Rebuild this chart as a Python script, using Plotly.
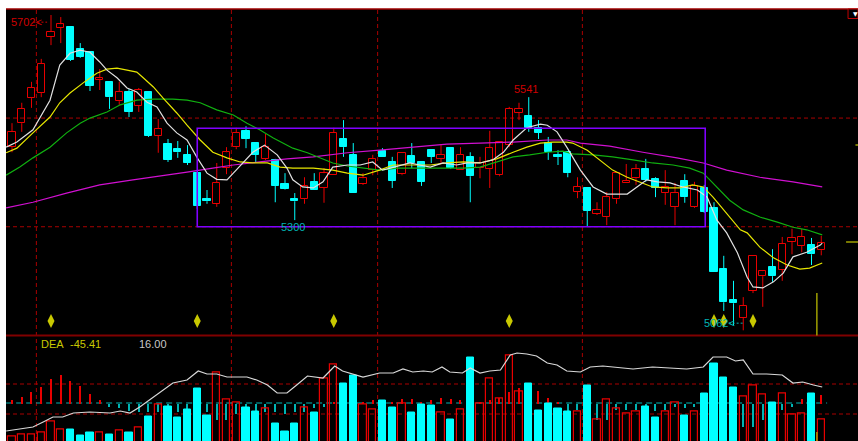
import plotly.graph_objects as go

# ---------------- data ----------------
open_ = [5443, 5490, 5539, 5549, 5659, 5677, 5679, 5635, 5629, 5575,
         5571, 5533, 5551, 5524, 5551, 5465, 5449, 5439, 5428, 5392,
         5341, 5332, 5402, 5443, 5475, 5451, 5420, 5418, 5371, 5341,
         5341, 5375, 5363, 5388, 5459, 5428, 5371, 5398, 5435, 5414,
         5390, 5426, 5414, 5437, 5420, 5441, 5398, 5424, 5402, 5400,
         5388, 5447, 5510, 5504, 5481, 5451, 5428, 5433, 5355, 5363,
         5312, 5306, 5341, 5373, 5382, 5400, 5380, 5353, 5326, 5377,
         5326, 5363, 5324, 5204, 5143, 5108, 5161, 5190, 5208, 5202,
         5257, 5249, 5251, 5241]
high_ = [5490, 5530, 5571, 5616, 5702, 5698, 5680, 5647, 5629, 5596,
         5571, 5571, 5557, 5559, 5551, 5498, 5459, 5455, 5447, 5392,
         5359, 5412, 5443, 5481, 5484, 5453, 5469, 5420, 5392, 5353,
         5384, 5392, 5402, 5481, 5496, 5451, 5392, 5428, 5441, 5424,
         5433, 5451, 5414, 5437, 5447, 5443, 5443, 5433, 5424, 5475,
         5455, 5522, 5530, 5541, 5496, 5463, 5437, 5433, 5384, 5363,
         5335, 5355, 5392, 5410, 5410, 5420, 5384, 5398, 5373, 5390,
         5375, 5369, 5335, 5230, 5181, 5149, 5231, 5202, 5243, 5267,
         5283, 5283, 5265, 5269]
low_ = [5433, 5473, 5520, 5541, 5643, 5647, 5612, 5618, 5553, 5555,
        5518, 5526, 5502, 5512, 5463, 5432, 5414, 5422, 5408, 5322,
        5332, 5326, 5390, 5439, 5441, 5414, 5418, 5335, 5360, 5300,
        5332, 5359, 5334, 5388, 5424, 5353, 5369, 5388, 5424, 5363,
        5388, 5402, 5367, 5412, 5412, 5400, 5398, 5335, 5382, 5363,
        5386, 5443, 5496, 5473, 5459, 5418, 5408, 5384, 5343, 5288,
        5310, 5290, 5332, 5373, 5369, 5375, 5345, 5330, 5290, 5334,
        5324, 5314, 5198, 5122, 5094, 5084, 5157, 5130, 5179, 5181,
        5233, 5237, 5212, 5231]
close_ = [5473, 5518, 5559, 5606, 5669, 5684, 5614, 5620, 5563, 5578,
          5541, 5551, 5512, 5555, 5465, 5479, 5418, 5433, 5412, 5328,
          5337, 5373, 5433, 5471, 5459, 5428, 5443, 5367, 5361, 5337,
          5367, 5359, 5392, 5471, 5443, 5353, 5382, 5420, 5424, 5377,
          5432, 5412, 5375, 5424, 5428, 5402, 5428, 5386, 5412, 5441,
          5453, 5518, 5518, 5481, 5471, 5433, 5424, 5392, 5365, 5318,
          5320, 5345, 5392, 5377, 5400, 5379, 5363, 5365, 5353, 5345,
          5367, 5316, 5198, 5139, 5137, 5132, 5230, 5200, 5190, 5253,
          5265, 5267, 5233, 5255]

volume = [4800, 5200, 5200, 5600, 8000, 6400, 6400, 5000, 5600, 5600,
          5200, 6000, 5600, 6800, 9000, 11400, 11000, 8800, 10400, 14600,
          9200, 17800, 12400, 11800, 10800, 10000, 10600, 7600, 5800, 7600,
          10800, 9800, 16600, 19400, 15600, 17200, 11400, 10400, 12200, 10800,
          11600, 9800, 11400, 11200, 9800, 8400, 10400, 20800, 11600, 16600,
          12600, 21200, 14000, 15600, 10200, 11600, 10600, 10000, 10000, 15200,
          8400, 12400, 10600, 9600, 10000, 11000, 8800, 10000, 11800, 9200,
          10000, 13600, 19600, 16800, 14800, 13000, 15200, 13400, 11800, 13600,
          9400, 9600, 13600, 8400]

macd = [10, 17.5, 30, 42.5, 62.5, 72.5, 57.5, 45, 25, 10,
        -8, -12, -18, -22, -22, -22, -20, -22, -22, -25,
        -22, -42, -42, -25, -22, -22, -22, -22, -25, -22,
        -22, -12, -8, 3, 15, 5, 5, 8, 5, 5,
        12, 12, 5, 8, 15, 12, 10, 8, 5, 10,
        15, 30, 38, 30, 32, 15, 5, -25, -15, -20,
        -42, -42, -15, -15, -15, -8, -18, -15, -8, -12,
        -8, -10, -15, -20, -30, -58, -58, -42, -25, -15,
        -8, 12, 15, 22]

ma5_x = [-0.6, 0.5, 2.15, 3.9, 4.9, 5.95, 6.97, 8.0, 9.0, 9.74, 10.77, 11.8, 12.8, 13.85,
         14.87, 15.9, 16.9, 17.95, 19.0, 20.0, 21.0, 22.05, 22.7, 23.7, 24.7, 25.9, 27.2,
         28.2, 28.8, 29.8, 30.9, 31.9, 32.9, 34.4, 35.7, 37.0, 38.0, 38.8, 40.8, 41.8, 42.9,
         44.2, 45.6, 46.7, 48.0, 49.3, 50.4, 51.4, 52.8, 54.2, 54.9, 55.9, 56.9, 58.3, 59.6,
         61.0, 63.1, 64.1, 65.1, 66.2, 67.5, 68.8, 70.3, 71.3, 72.3, 73.3, 74.4, 75.4, 76.0,
         77.0, 78.1, 79.1, 80.1, 81.5, 82.9, 83.1]
ma5 = [5443, 5453, 5477, 5535, 5604, 5627, 5633, 5629, 5610, 5594, 5579, 5559, 5551, 5531,
       5522, 5490, 5471, 5457, 5422, 5392, 5380, 5379, 5392, 5412, 5433, 5447, 5428,
       5402, 5379, 5365, 5363, 5375, 5404, 5408, 5408, 5414, 5398, 5402, 5412, 5408, 5404,
       5412, 5408, 5412, 5412, 5418, 5433, 5457, 5481, 5488, 5486, 5473, 5443, 5398, 5365,
       5351, 5351, 5365, 5379, 5375, 5373, 5365, 5359, 5345, 5300, 5275, 5236, 5188, 5169,
       5167, 5179, 5196, 5228, 5237, 5251, 5255]

ma10_x = [-0.6, 0.5, 2.15, 3.9, 4.9, 5.95, 7.3, 8.7, 9.74, 10.77, 11.8, 12.8, 13.4, 14.5,
          15.5, 16.9, 17.95, 19.3, 20.6, 22.05, 23.4, 24.7, 26.2, 27.5, 28.8, 30.9, 32.9,
          34.4, 36.0, 37.7, 39.1, 41.1, 42.9, 44.6, 46.3, 48.0, 49.7, 51.4, 52.8, 54.2, 55.5,
          56.9, 57.5, 59.0, 60.3, 61.6, 63.1, 64.4, 65.7, 67.2, 68.5, 69.8, 70.9, 71.9, 73.3,
          74.7, 75.4, 76.7, 78.1, 79.5, 80.8, 81.8, 83.1]
ma10 = [5432, 5441, 5471, 5502, 5530, 5549, 5569, 5588, 5596, 5598, 5594, 5590, 5580, 5561,
        5539, 5510, 5486, 5457, 5433, 5422, 5414, 5412, 5412, 5404, 5402, 5402, 5398,
        5392, 5388, 5398, 5408, 5408, 5408, 5412, 5414, 5412, 5420, 5433, 5443, 5451, 5453,
        5453, 5451, 5437, 5418, 5398, 5384, 5375, 5365, 5363, 5363, 5369, 5365, 5345, 5314,
        5281, 5275, 5247, 5226, 5212, 5204, 5206, 5216]

ma20_x = [-0.6, 0.8, 2.15, 3.9, 5.6, 7.0, 8.0, 9.74, 11.1, 12.8, 14.5, 16.5, 17.95, 19.3,
          21.0, 22.7, 24.1, 25.4, 26.8, 28.2, 28.8, 30.3, 31.6, 32.9, 34.4, 36.0, 37.7, 39.5,
          41.1, 42.9, 44.6, 46.3, 48.0, 49.7, 51.4, 53.1, 54.9, 56.5, 57.5, 59.6, 61.6, 63.7,
          65.7, 67.8, 69.5, 70.9, 72.3, 73.6, 75.0, 76.7, 78.5, 80.1, 81.5, 83.1]
ma20 = [5388, 5404, 5422, 5443, 5471, 5490, 5500, 5512, 5526, 5535, 5537, 5537, 5535, 5530,
        5516, 5506, 5490, 5477, 5461, 5447, 5441, 5432, 5422, 5412, 5406, 5402, 5398, 5402,
        5402, 5402, 5402, 5402, 5404, 5414, 5424, 5428, 5433, 5435, 5430, 5428, 5424, 5418,
        5412, 5408, 5402, 5392, 5365, 5339, 5320, 5306, 5296, 5286, 5281, 5271]

ma60_x = [-0.6, 2.15, 5.6, 9.0, 12.4, 15.9, 17.95, 20.6, 22.7, 25.4, 28.2, 30.9, 34.4, 37.7,
          41.1, 44.6, 48.0, 51.4, 54.9, 56.9, 58.3, 61.3, 64.7, 68.2, 70.9, 73.3, 76.7, 80.1,
          83.1]
ma60 = [5324, 5335, 5353, 5369, 5379, 5388, 5394, 5402, 5408, 5414, 5420, 5424, 5432, 5437,
        5443, 5449, 5451, 5453, 5457, 5457, 5451, 5445, 5433, 5422, 5412, 5398, 5384, 5375,
        5365]

vline_x = [-0.6, 0.8, 2.15, 3.2, 4.2, 5.2, 6.3, 8.0, 10.05, 11.1, 12.1, 13.1, 14.5, 16.5,
           17.95, 19.1, 20.0, 21.0, 22.05, 24.1, 25.1, 26.2, 27.2, 28.2, 29.2, 30.3, 31.9,
           33.1, 33.9, 36.0, 37.7, 39.1, 40.1, 41.1, 42.2, 43.1, 44.1, 44.9, 46.2, 47.0, 48.0,
           49.0, 50.1, 51.1, 51.8, 52.8, 53.8, 54.9, 55.9, 56.9, 58.3, 59.3, 60.6, 61.6, 63.7,
           65.7, 67.2, 69.2, 70.9, 71.9, 73.3, 74.2, 75.0, 76.0, 77.4, 79.0, 80.1, 81.1, 82.2,
           83.1]
vline = [6000, 6400, 6800, 7800, 8800, 8800, 9600, 9800, 9600, 10000, 9600, 10800, 12800,
         15600, 16200, 18000, 17400, 17400, 16800, 16800, 16200, 15200, 13600, 13600, 15200,
         17000, 16600, 19000, 18000, 16800, 17600, 17600, 18400, 17800, 18000, 17800, 18800,
         17800, 17600, 18600, 17600, 18000, 18200, 21200, 21600, 21400, 21000, 19600, 19200,
         18000, 17800, 18800, 19000, 18800, 18400, 18800, 18600, 18400, 18800, 20800, 20800,
         20000, 20200, 17400, 17400, 17200, 15600, 15800, 15200, 14800]

signal_idx = [4, 19, 33, 51, 72, 73, 76]
signal_level = 5102
month_breaks = [2.5, 22.5, 37.5, 58.5]
price_grid = [5500, 5287]
vol_grid = [15400, 9400]
box_x = [19.0, 71.1]
box_y = [5287, 5480]
dea_value = "-45.41"
param_value = "16.00"

# ---------------- styling ----------------
RED = "#e80000"
CYAN = "#00ffff"
TEAL = "#00b4b4"
GRID = "#a80000"
YEL = "#c8c800"

n = len(open_)
idx = list(range(n))
up = [c > o for o, c in zip(open_, close_)]

fig = go.Figure()

def bodies(sel, fill, line):
    xs = [i for i in idx if sel(i)]
    base = [min(open_[i], close_[i]) for i in xs]
    h = [max(abs(close_[i] - open_[i]), 1.5) for i in xs]
    return go.Bar(x=xs, y=h, base=base, width=0.76, marker=dict(color=fill, line=dict(color=line, width=1)),
                  xaxis="x", yaxis="y", hoverinfo="skip")

def wicks(sel, color):
    wx, wy = [], []
    for i in idx:
        if not sel(i):
            continue
        top = max(open_[i], close_[i]); bot = min(open_[i], close_[i])
        wx += [i, i, None, i, i, None]
        wy += [high_[i], top, None, bot, low_[i], None]
    return go.Scatter(x=wx, y=wy, mode="lines", line=dict(color=color, width=1), xaxis="x", yaxis="y",
                      hoverinfo="skip")

fig.add_trace(wicks(lambda i: up[i], RED))
fig.add_trace(wicks(lambda i: not up[i], CYAN))
fig.add_trace(bodies(lambda i: up[i], "rgba(0,0,0,0)", RED))
fig.add_trace(bodies(lambda i: not up[i], CYAN, CYAN))

for xs, ys, col in [(ma60_x, ma60, "#d010d0"), (ma20_x, ma20, "#10b010"),
                    (ma10_x, ma10, "#e6e600"), (ma5_x, ma5, "#e0e0e0")]:
    fig.add_trace(go.Scatter(x=xs, y=ys, mode="lines", line=dict(color=col, width=1.2),
                             xaxis="x", yaxis="y", hoverinfo="skip"))

fig.add_trace(go.Scatter(x=signal_idx, y=[signal_level] * len(signal_idx), mode="markers",
                         marker=dict(symbol="diamond-tall", size=10, color=YEL, line=dict(width=0)),
                         xaxis="x", yaxis="y", hoverinfo="skip"))

# bottom panel: MACD sticks (y2)
mx_pos = [i for i in idx if macd[i] > 0]
mx_neg = [i for i in idx if macd[i] <= 0]
fig.add_trace(go.Bar(x=mx_pos, y=[macd[i] for i in mx_pos], base=0, width=0.12,
                     marker=dict(color=RED, line=dict(width=0)), xaxis="x", yaxis="y2", hoverinfo="skip"))
fig.add_trace(go.Bar(x=mx_neg, y=[macd[i] for i in mx_neg], base=0, width=0.12,
                     marker=dict(color=TEAL, line=dict(width=0)), xaxis="x", yaxis="y2", hoverinfo="skip"))

# volume bars (y3)
vu = [i for i in idx if up[i]]
vd = [i for i in idx if not up[i]]
fig.add_trace(go.Bar(x=vu, y=[volume[i] for i in vu], width=0.76,
                     marker=dict(color="rgba(0,0,0,0)", line=dict(color=RED, width=1.2)),
                     xaxis="x", yaxis="y3", hoverinfo="skip"))
fig.add_trace(go.Bar(x=vd, y=[volume[i] for i in vd], width=0.76,
                     marker=dict(color=CYAN, line=dict(color=CYAN, width=1)),
                     xaxis="x", yaxis="y3", hoverinfo="skip"))
fig.add_trace(go.Scatter(x=vline_x, y=vline, mode="lines", line=dict(color="#d8d8d8", width=1.2),
                         xaxis="x", yaxis="y3", hoverinfo="skip"))

# ---------------- shapes ----------------
shapes = []
for mb in month_breaks:
    shapes.append(dict(type="line", xref="x", yref="paper", x0=mb, x1=mb, y0=0, y1=1,
                       line=dict(color=GRID, width=1, dash="4px,3px"), layer="below"))
for pg in price_grid:
    shapes.append(dict(type="line", xref="paper", yref="y", x0=0, x1=1, y0=pg, y1=pg,
                       line=dict(color=GRID, width=1, dash="4px,3px"), layer="below"))
for vg in vol_grid:
    shapes.append(dict(type="line", xref="paper", yref="y3", x0=0, x1=1, y0=vg, y1=vg,
                       line=dict(color=GRID, width=1, dash="4px,3px"), layer="below"))
shapes.append(dict(type="line", xref="x", yref="y2", x0=-0.6, x1=83.6, y0=0, y1=0,
                   line=dict(color=TEAL, width=1, dash="6px,4px"), layer="below"))
shapes.append(dict(type="rect", xref="x", yref="y", x0=box_x[0], x1=box_x[1], y0=box_y[0], y1=box_y[1],
                   line=dict(color="#8000ff", width=1.6)))
shapes.append(dict(type="line", xref="paper", yref="paper", x0=0, x1=1, y0=1, y1=1,
                   line=dict(color="#a00000", width=1.5)))
shapes.append(dict(type="line", xref="paper", yref="paper", x0=0, x1=1, y0=0.2442, y1=0.2442,
                   line=dict(color="#800000", width=2)))
shapes.append(dict(type="line", xref="x", yref="y", x0=2.2, x1=3.6, y0=5688, y1=5688,
                   line=dict(color="#d00000", width=1, dash="2px,2px")))
shapes.append(dict(type="line", xref="x", yref="y", x0=73.5, x1=75.0, y0=5098, y1=5098,
                   line=dict(color=TEAL, width=1, dash="2px,2px")))
shapes.append(dict(type="line", xref="x", yref="y", x0=82.55, x1=82.55, y0=5157, y1=5070,
                   line=dict(color="#a0a000", width=1.5)))
shapes.append(dict(type="line", xref="x", yref="y3", x0=82.55, x1=82.55, y0=5800, y1=3900,
                   line=dict(color="#a0a000", width=1.5)))
shapes.append(dict(type="line", xref="paper", yref="y", x0=0.986, x1=1, y0=5257, y1=5257,
                   line=dict(color="#a0a000", width=1.5)))
shapes.append(dict(type="line", xref="paper", yref="y", x0=0.997, x1=1, y0=5447, y1=5447,
                   line=dict(color="#a0a000", width=1.5)))
shapes.append(dict(type="rect", xref="paper", yref="paper", x0=0.9883, x1=1.0, y0=0.978, y1=1.0,
                   line=dict(color="#c00000", width=1), fillcolor="black"))

FONT = "Liberation Sans, Arial, sans-serif"
ann = [
    dict(x=-0.35, y=5688, xref="x", yref="y", text="5702<", showarrow=False, xanchor="left",
         yanchor="middle", font=dict(family=FONT, size=11, color="#d00000")),
    dict(x=52.7, y=5557, xref="x", yref="y", text="5541", showarrow=False, xanchor="center",
         yanchor="middle", font=dict(family=FONT, size=11, color="#d00000")),
    dict(x=28.8, y=5287, xref="x", yref="y", text="5300", showarrow=False, xanchor="center",
         yanchor="middle", font=dict(family=FONT, size=11, color=TEAL)),
    dict(x=70.8, y=5098, xref="x", yref="y", text="5062<", showarrow=False, xanchor="left",
         yanchor="middle", font=dict(family=FONT, size=11, color=TEAL)),
    dict(x=0.0387, y=0.2245, xref="paper", yref="paper", text="DEA", showarrow=False, xanchor="left",
         yanchor="middle", font=dict(family=FONT, size=11, color=YEL)),
    dict(x=0.0728, y=0.2245, xref="paper", yref="paper", text=dea_value, showarrow=False,
         xanchor="left", yanchor="middle", font=dict(family=FONT, size=11, color=YEL)),
    dict(x=0.1538, y=0.2245, xref="paper", yref="paper", text=param_value, showarrow=False,
         xanchor="left", yanchor="middle", font=dict(family=FONT, size=11, color="#c8c8c8")),
    dict(x=0.9965, y=0.989, xref="paper", yref="paper", text="▼", showarrow=False,
         xanchor="center", yanchor="middle", font=dict(family="DejaVu Sans", size=6, color="white")),
]

fig.update_layout(
    width=858, height=441,
    margin=dict(l=6, r=0, t=9, b=0, pad=0, autoexpand=False),
    paper_bgcolor="white", plot_bgcolor="black",
    showlegend=False, barmode="overlay", bargap=0,
    xaxis=dict(range=[-0.6154, 86.769], visible=False, showgrid=False, zeroline=False),
    yaxis=dict(domain=[0.2442, 1], range=[5073.8, 5713.8], visible=False, showgrid=False, zeroline=False),
    yaxis2=dict(domain=[0, 0.2442], range=[-95, 168.75], visible=False, showgrid=False, zeroline=False),
    yaxis3=dict(overlaying="y2", range=[4000, 25100], visible=False, showgrid=False, zeroline=False),
    shapes=shapes, annotations=ann,
)

fig.write_html("out.html", config={"displayModeBar": False},
               post_script="document.body.style.margin='0';document.body.style.overflow='hidden';")
